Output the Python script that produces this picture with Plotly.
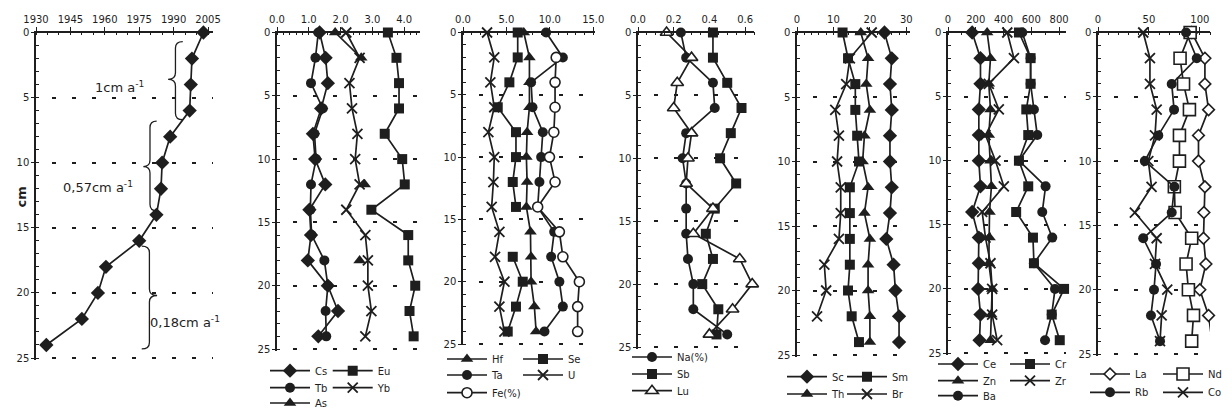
import plotly.graph_objects as go

# page body has an 8px margin: draw the figure inside the visible window
OFF = 8
W, H = 1232 - OFF, 411 - OFF
INK = "#1e1e1e"
FONT = "DejaVu Sans"

def fx(px):
    return (px - OFF) / W

def fy(py):
    return 1 - (py - OFF) / H

depth = [0, 2, 4, 6, 8, 10, 12, 14, 16, 18, 20, 22, 24]

# panel 1 : age of layer
year = [2003, 1998, 1997.5, 1997, 1988.5, 1985, 1984.5, 1982.5, 1975, 1960.5, 1957, 1950, 1934.5]

# panel 2
cs = [1.34, 1.53, 1.60, 1.39, 1.13, 1.20, 1.52, 1.02, 1.07, 0.97, 1.60, 1.92, 1.30]
tb = [1.30, 1.21, 1.07, 1.44, 1.18, 1.23, 1.07, 1.05, 1.09, 1.49, 1.60, 1.53, 1.55]
as_ = [1.83, 2.65, None, None, None, None, 2.76, None, None, 2.60, None, None, None]
eu = [3.49, 3.76, 3.84, 3.84, 3.39, 3.94, 4.02, 2.97, 4.13, 4.13, 4.35, 4.17, 4.30]
yb = [2.18, 2.60, 2.28, 2.36, 2.53, 2.46, 2.60, 2.18, 2.78, 2.86, 2.86, 2.97, 2.78]

# panel 3
hf = [7.0, 7.65, 7.65, 7.65, 7.38, 7.3, 7.38, 7.3, 7.77, 7.84, 7.84, 8.22, 8.42]
se = [6.3, 6.3, 5.34, 4.0, 6.1, 6.1, 5.73, 6.1, None, 5.73, 6.88, 6.1, 5.15]
ta = [9.57, 11.5, 7.84, 8.0, 9.19, 9.0, 8.8, 8.6, 10.5, 10.15, 11.1, 11.5, 9.38]
u = [2.77, 3.6, 3.15, 3.6, 2.92, 3.6, 3.5, 3.3, 4.19, 3.69, 4.77, 4.19, 4.77]
fe = [None, 10.73, 10.6, 10.6, 10.46, 9.96, 10.6, 8.6, 11.1, 11.5, 13.4, 13.2, 13.2]

# panel 4
na = [0.24, 0.27, 0.42, 0.43, 0.27, 0.25, 0.27, 0.27, 0.27, 0.28, 0.31, 0.31, 0.50]
sb = [0.42, 0.42, 0.50, 0.58, 0.52, 0.46, 0.55, 0.43, 0.38, 0.42, 0.36, 0.45, 0.44]
lu = [0.16, 0.30, 0.22, 0.20, 0.30, 0.28, 0.27, 0.42, 0.31, 0.57, 0.64, 0.53, 0.40]

# panel 5
sc = [24, 26, 25.5, 26, 25.5, 25.5, 26, 25.5, 24.5, 26.5, 27, 28, 28]
sm = [12.5, 14, 16, 16, 16.5, 17, 14.5, 14.5, 14.5, 14.5, 14, 15, 17]
th = [17.5, 19.5, 19, 20, 18.5, 18, 19.5, 18.5, 20, 19.5, 19.5, 20, 20]
br = [20.5, 14.5, 13.5, 10.5, 11.5, 11, 12, 12, 11.5, 7.5, 8, 5.5, None]

# panel 6
ce = [174, 234, 234, 222, 222, 222, 234, 174, 222, 222, 217, 234, 227]
cr = [511, 595, 595, 564, 578, 511, 578, 491, 612, 619, 836, 747, 805]
zn = [282, 306, 294, 306, 294, 306, 313, 299, 299, 294, 318, 311, 306]
zr = [427, 475, 294, 366, 270, 342, 402, 246, 270, 306, 318, 318, 354]
ba = [535, 595, 595, 619, 643, 511, 703, 679, 751, 619, 771, 747, 699]

# panel 7
la = [92, 105, 105, 108.6, 98.7, 98.7, 105, 104, 103.6, 106, 100, 108.6, 112]
nd = [90.5, 80.6, 84, 89.8, 80, 80, 75, 75.7, 92, 86.5, 88.8, 93.8, 92]
rb = [86.5, 97, 72.4, 74.7, 59.2, 46, 75, 72.4, 44.4, 57, 55, 52, 60.9]
co = [44.4, 51, 51, 57.6, 56, 49.4, 52.6, 36.2, 57.6, 56, 68, 62.5, 60.9]

panels = [
    dict(x0=36, x1=212.6, ybot=358, rng=[1930, 2007], dtick=15, tick0=1930, minor=5, fmt="d"),
    dict(x0=277, x1=420, ybot=349, rng=[0, 4.5], dtick=1, tick0=0, minor=0.2, fmt=".1f"),
    dict(x0=463, x1=595, ybot=344, rng=[0, 15.2], dtick=5, tick0=0, minor=1, fmt=".1f"),
    dict(x0=638, x1=754, ybot=347, rng=[0, 0.65], dtick=0.2, tick0=0, minor=0.05, fmt=".1f"),
    dict(x0=797, x1=910, ybot=355, rng=[0, 31], dtick=10, tick0=0, minor=2, fmt="d"),
    dict(x0=948, x1=1066, ybot=353, rng=[0, 850], dtick=200, tick0=0, minor=100, fmt="d"),
    dict(x0=1098, x1=1210, ybot=354, rng=[0, 110], dtick=50, tick0=0, minor=10, fmt="d"),
]
YTOP = 32.5
YMAX = 25.12   # tiny overshoot so that the dashed line at 25 is kept

fig = go.Figure()

def ax_names(i):
    return ("x" if i == 1 else f"x{i}", "y" if i == 1 else f"y{i}")

for i, p in enumerate(panels, start=1):
    xn, yn = ax_names(i)
    xkey = "xaxis" if i == 1 else f"xaxis{i}"
    ykey = "yaxis" if i == 1 else f"yaxis{i}"
    ybot = YTOP + (p["ybot"] - YTOP) * YMAX / 25.0
    fig.update_layout({
        xkey: dict(
            domain=[fx(p["x0"]), fx(p["x1"])], range=p["rng"], side="top", anchor=yn,
            showline=True, linecolor=INK, linewidth=1.5, mirror=False, automargin=False,
            ticks="outside", ticklen=4, tickwidth=1.2, tickcolor=INK,
            tickmode="linear", tick0=p["tick0"], dtick=p["dtick"], tickformat=p["fmt"],
            showgrid=False, zeroline=False, fixedrange=True,
            tickfont=dict(family=FONT, size=10, color=INK), ticklabelstandoff=0,
            minor=dict(ticks="inside", ticklen=3, tickwidth=1, tickcolor=INK,
                       dtick=p["minor"], showgrid=False),
        ),
        ykey: dict(
            domain=[fy(ybot), fy(YTOP)], range=[YMAX, 0], anchor=xn,
            showline=True, linecolor=INK, linewidth=1.5, automargin=False,
            ticks="outside", ticklen=3, tickwidth=1.2, tickcolor=INK,
            tickmode="linear", tick0=0, dtick=5,
            showgrid=True, gridcolor=INK, gridwidth=1.5, griddash="0px,16px,4px,0px",
            zeroline=False, fixedrange=True,
            tickfont=dict(family=FONT, size=10, color=INK),
            minor=dict(ticks="inside", ticklen=3, tickwidth=1, tickcolor=INK,
                       dtick=1, showgrid=False),
        ),
    })

legend_ids = ["legend"] + [f"legend{k}" for k in range(2, 40)]
legend_layout = {}
counter = [0]

def add(panel, vals, name, symbol, size, hollow=False, lx=None, ly=None):
    xn, yn = ax_names(panel)
    if hollow:
        marker = dict(symbol=symbol, size=size, color="white", line=dict(color=INK, width=1.6))
    elif "x-thin" in symbol:
        marker = dict(symbol=symbol, size=size, color=INK, line=dict(color=INK, width=1.8))
    else:
        marker = dict(symbol=symbol, size=size, color=INK, line=dict(color=INK, width=0))
    kw = {}
    if lx is not None:
        lid = legend_ids[counter[0]]
        counter[0] += 1
        kw["legend"] = lid
        legend_layout[lid] = dict(
            x=fx(lx - 25), y=fy(ly), xanchor="left", yanchor="middle",
            bgcolor="rgba(0,0,0,0)", borderwidth=0, orientation="v", itemwidth=40,
            font=dict(family=FONT, size=10, color=INK),
            itemclick=False, itemdoubleclick=False,
        )
        kw["showlegend"] = True
    else:
        kw["showlegend"] = False
    fig.add_trace(go.Scatter(
        x=vals, y=depth, xaxis=xn, yaxis=yn, name=name, mode="lines+markers",
        line=dict(color=INK, width=1.7), marker=marker, connectgaps=False,
        cliponaxis=False, **kw))

add(1, year, "Age", "diamond", 11)

add(2, cs, "Cs", "diamond", 11, lx=290, ly=370.7)
add(2, eu, "Eu", "square", 10, lx=352.7, ly=370.7)
add(2, tb, "Tb", "circle", 10, lx=290, ly=387.7)
add(2, yb, "Yb", "x-thin-open", 10, lx=352.7, ly=387.7)
add(2, as_, "As", "triangle-up", 11, lx=290, ly=403)

add(3, hf, "Hf", "triangle-up", 11, lx=467, ly=359)
add(3, se, "Se", "square", 10, lx=543, ly=359)
add(3, ta, "Ta", "circle", 10, lx=467, ly=375)
add(3, u, "U", "x-thin-open", 10, lx=543, ly=375)
add(3, fe, "Fe(%)", "circle", 10, hollow=True, lx=467, ly=392.7)

add(4, na, "Na(%)", "circle", 10, lx=652, ly=357)
add(4, sb, "Sb", "square", 10, lx=652, ly=374)
add(4, lu, "Lu", "triangle-up", 11, hollow=True, lx=652, ly=390.7)

add(5, sc, "Sc", "diamond", 11, lx=807, ly=376.7)
add(5, sm, "Sm", "square", 10, lx=867, ly=376.7)
add(5, th, "Th", "triangle-up", 11, lx=807, ly=394)
add(5, br, "Br", "x-thin-open", 10, lx=867, ly=394)

add(6, ce, "Ce", "diamond", 11, lx=958, ly=364)
add(6, cr, "Cr", "square", 10, lx=1030, ly=364)
add(6, zn, "Zn", "triangle-up", 11, lx=958, ly=380.7)
add(6, zr, "Zr", "x-thin-open", 10, lx=1030, ly=380.7)
add(6, ba, "Ba", "circle", 10, lx=958, ly=395.7)

add(7, la, "La", "diamond", 9, hollow=True, lx=1110, ly=374)
add(7, nd, "Nd", "square", 12, hollow=True, lx=1183, ly=374)
add(7, rb, "Rb", "circle", 10, lx=1110, ly=392.3)
add(7, co, "Co", "x-thin-open", 10, lx=1183, ly=392.3)

fig.update_layout(legend_layout)

# braces of panel 1 (data coordinates of panel 1)
def brace(x_end, x_tip, y1, y2, ym, q=0.5):
    xs = (x_end + x_tip) / 2
    return (f"M {x_end},{y1} Q {xs},{y1} {xs},{y1 + q} L {xs},{ym - q} "
            f"Q {xs},{ym} {x_tip},{ym} Q {xs},{ym} {xs},{ym + q} "
            f"L {xs},{y2 - q} Q {xs},{y2} {x_end},{y2}")

shapes = [
    dict(type="path", xref="x", yref="y", path=brace(1994.0, 1987.6, 0.7, 6.7, 3.6),
         line=dict(color=INK, width=1.3)),
    dict(type="path", xref="x", yref="y", path=brace(1982.6, 1976.8, 6.8, 13.7, 10.3),
         line=dict(color=INK, width=1.3)),
    dict(type="path", xref="x", yref="y", path=brace(1976.1, 1982.8, 16.4, 24.3, 20.2),
         line=dict(color=INK, width=1.3)),
]

annotations = [
    dict(text="<b>cm</b>", x=fx(11), y=fy(197), xref="paper", yref="paper",
         textangle=-90, showarrow=False, font=dict(family=FONT, size=13, color=INK)),
    dict(text="1cm a<sup>-1</sup>", x=1966.6, y=4.18, xref="x", yref="y",
         showarrow=False, font=dict(family=FONT, size=13, color=INK)),
    dict(text="0,57cm a<sup>-1</sup>", x=1957, y=11.9, xref="x", yref="y",
         showarrow=False, font=dict(family=FONT, size=13, color=INK)),
    dict(text="0,18cm a<sup>-1</sup>", x=1995, y=22.2, xref="x", yref="y",
         showarrow=False, font=dict(family=FONT, size=13, color=INK)),
]

fig.update_layout(
    width=W, height=H, autosize=False,
    margin=dict(l=0, r=0, t=0, b=0, pad=0, autoexpand=False),
    paper_bgcolor="white", plot_bgcolor="white",
    shapes=shapes, annotations=annotations,
    font=dict(family=FONT, size=10, color=INK),
)

fig.write_html("out.html")
